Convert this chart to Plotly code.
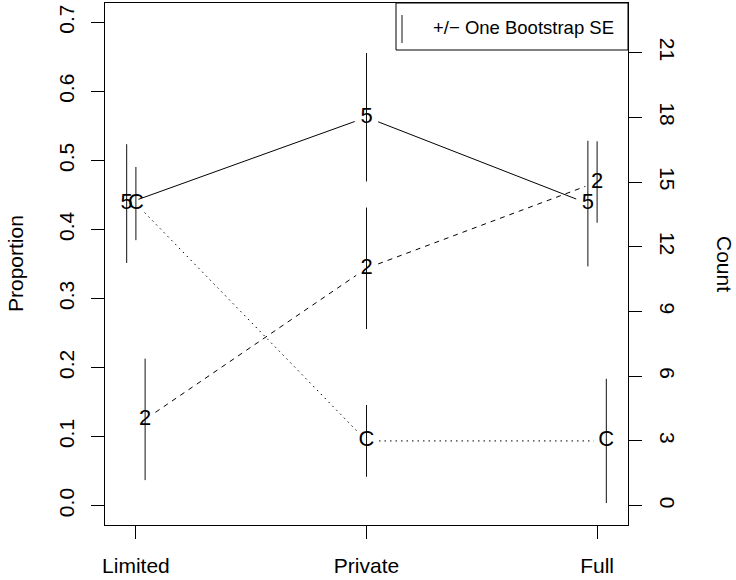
import math
import plotly.graph_objects as go

# ---- data ----
categories = ["Limited", "Private", "Full"]
cat_pos = [1, 2, 3]
n_total = 32
series_labels = ["5", "2", "C"]
prop_5 = [0.4375, 0.5625, 0.4375]
prop_2 = [0.125, 0.34375, 0.46875]
prop_C = [0.4375, 0.09375, 0.09375]
se_5 = [0.086, 0.093, 0.091]
se_2 = [0.088, 0.088, 0.059]
se_C = [0.053, 0.052, 0.090]
offset_5 = [-0.04, 0.0, -0.04]
offset_2 = [0.04, 0.0, 0.0]
offset_C = [0.0, 0.0, 0.04]
prop_ticks = [0.0, 0.1, 0.2, 0.3, 0.4, 0.5, 0.6, 0.7]
count_ticks = [0, 3, 6, 9, 12, 15, 18, 21]
legend_text = "+/\u2212 One Bootstrap SE"

# ---- layout constants ----
W, H = 736, 580
ML, MR, MT, MB = 105, 108, 3, 55
PW, PH = W - ML - MR, H - MT - MB
XR = [0.866, 3.134]
YR = [-0.028, 0.728]
FONT = "Liberation Sans, Arial, Helvetica, sans-serif"
GAP = 12.5

px_x = PW / (XR[1] - XR[0])
px_y = PH / (YR[1] - YR[0])


def gapped(xs, ys, gap=GAP):
    ox, oy = [], []
    for i in range(len(xs) - 1):
        x1, y1, x2, y2 = xs[i], ys[i], xs[i + 1], ys[i + 1]
        dx, dy = (x2 - x1) * px_x, (y2 - y1) * px_y
        L = math.hypot(dx, dy)
        if L <= 2 * gap:
            continue
        f = gap / L
        ox += [x1 + (x2 - x1) * f, x2 - (x2 - x1) * f, None]
        oy += [y1 + (y2 - y1) * f, y2 - (y2 - y1) * f, None]
    return ox, oy


fig = go.Figure()

series = [
    ("5", prop_5, se_5, offset_5, "solid"),
    ("2", prop_2, se_2, offset_2, "5px,5px"),
    ("C", prop_C, se_C, offset_C, "1.5px,4px"),
]

for lab, props, ses, offs, dash in series:
    xs = [c + o for c, o in zip(cat_pos, offs)]
    lx, ly = gapped(xs, props)
    fig.add_trace(go.Scatter(x=lx, y=ly, mode="lines",
                             line=dict(color="black", width=1, dash=dash),
                             hoverinfo="skip", showlegend=False))
    fig.add_trace(go.Scatter(x=xs, y=props, mode="text",
                             text=[lab] * len(xs),
                             textposition="middle center",
                             textfont=dict(family=FONT, size=22, color="black"),
                             error_y=dict(type="data", array=ses, visible=True,
                                          width=0, thickness=1, color="#111"),
                             showlegend=False))

# invisible trace for the count axis
fig.add_trace(go.Scatter(x=[None], y=[None], yaxis="y2", showlegend=False))

axis_common = dict(showgrid=False, zeroline=False, ticks="outside", ticklen=13,
                   tickwidth=1, tickcolor="black", linecolor="black", linewidth=1,
                   tickfont=dict(family=FONT, size=21, color="black"))

fig.update_layout(
    width=W, height=H,
    margin=dict(l=ML, r=MR, t=MT, b=MB, pad=0),
    plot_bgcolor="white", paper_bgcolor="white",
    xaxis=dict(range=XR, tickvals=cat_pos, ticktext=categories,
               showline=True, mirror=True, ticklabelstandoff=9, **axis_common),
    yaxis=dict(range=YR, tickvals=prop_ticks,
               ticktext=[f"{v:.1f}" for v in prop_ticks],
               tickangle=-90, showline=True, mirror=True,
               ticklabelstandoff=9, **axis_common),
    yaxis2=dict(range=[YR[0] * n_total, YR[1] * n_total], tickvals=count_ticks,
                ticktext=[str(v) for v in count_ticks], overlaying="y", side="right",
                tickangle=90, showline=False, ticklabelstandoff=10, **axis_common),
    font=dict(family=FONT, color="black"),
)

# axis titles
fig.add_annotation(text="Proportion", xref="paper", yref="paper",
                   x=(15 - ML) / PW, y=0.5, textangle=-90, showarrow=False,
                   xanchor="center", yanchor="middle",
                   font=dict(family=FONT, size=21, color="black"))
fig.add_annotation(text="Count", xref="paper", yref="paper",
                   x=(725 - ML) / PW, y=0.5, textangle=90, showarrow=False,
                   xanchor="center", yanchor="middle",
                   font=dict(family=FONT, size=21, color="black"))


def px2paper_x(px):
    return (px - ML) / PW


def px2paper_y(py):
    return (H - MB - py) / PH


# legend box
fig.add_shape(type="rect", xref="paper", yref="paper",
              x0=px2paper_x(396), x1=1, y0=px2paper_y(50), y1=1,
              line=dict(color="black", width=1), fillcolor="white", layer="above")
fig.add_shape(type="line", xref="paper", yref="paper",
              x0=px2paper_x(402), x1=px2paper_x(402),
              y0=px2paper_y(43), y1=px2paper_y(15),
              line=dict(color="#111", width=1), layer="above")
fig.add_annotation(text=legend_text, xref="paper", yref="paper",
                   x=px2paper_x(431), y=px2paper_y(27), xanchor="left",
                   yanchor="middle", showarrow=False,
                   font=dict(family=FONT, size=18.5, color="black"))

fig.write_html("out.html", config={"displayModeBar": False},
               post_script="document.body.style.margin='0px';document.body.style.padding='0px';")
